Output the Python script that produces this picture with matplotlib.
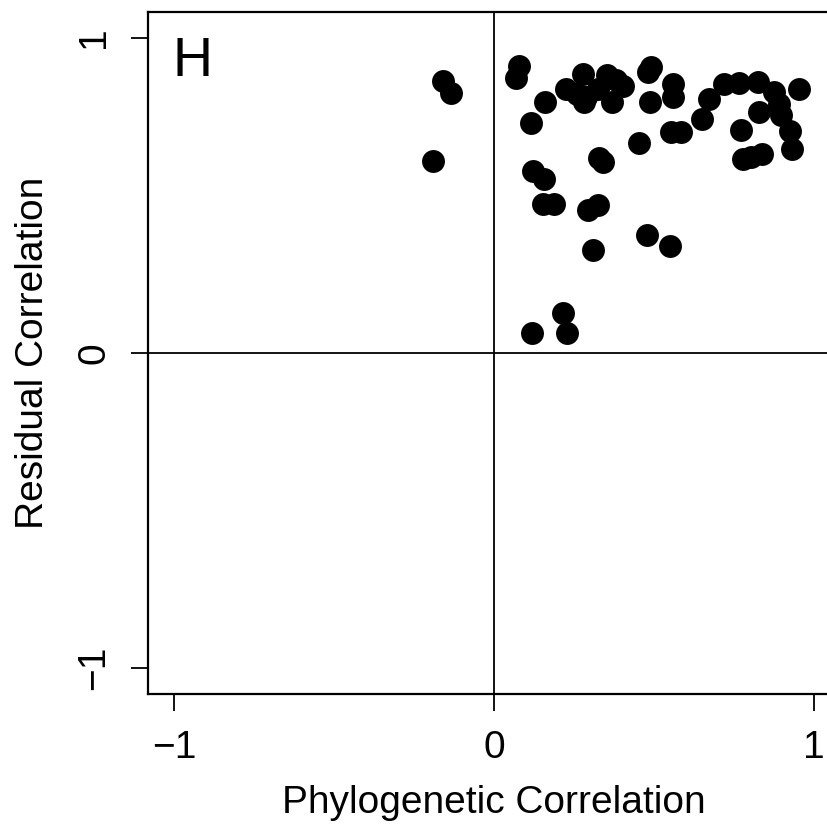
import matplotlib
matplotlib.use("Agg")
import matplotlib.pyplot as plt

plt.rcParams['font.family'] = ['Liberation Sans', 'DejaVu Sans']

# phylogenetic vs residual correlation
phylo = [-0.160, -0.135, -0.190, 0.079, 0.068, 0.160, 0.116, 0.225, 0.277, 0.261,
         0.287, 0.354, 0.381, 0.370, 0.402, 0.324, 0.490, 0.480, 0.487, 0.558,
         0.558, 0.454, 0.554, 0.584, 0.720, 0.766, 0.824, 0.672, 0.651, 0.829,
         0.875, 0.891, 0.896, 0.926, 0.932, 0.953, 0.771, 0.779, 0.803, 0.837,
         0.121, 0.157, 0.152, 0.188, 0.293, 0.324, 0.329, 0.340, 0.477, 0.549,
         0.308, 0.215, 0.228, 0.118, 0.282]
resid = [0.861, 0.825, 0.608, 0.911, 0.872, 0.797, 0.730, 0.837, 0.885, 0.821,
         0.811, 0.880, 0.865, 0.797, 0.845, 0.837, 0.906, 0.890, 0.795, 0.853,
         0.811, 0.667, 0.699, 0.700, 0.853, 0.855, 0.858, 0.806, 0.743, 0.764,
         0.827, 0.790, 0.753, 0.703, 0.648, 0.837, 0.706, 0.616, 0.621, 0.632,
         0.577, 0.553, 0.471, 0.471, 0.453, 0.468, 0.619, 0.605, 0.375, 0.339,
         0.326, 0.125, 0.062, 0.064, 0.795]

ticks = [-1, 0, 1]
tick_labels = ['\u22121', '0', '1']
panel = 'H'

fig = plt.figure(figsize=(8.28, 8.27), dpi=100)
# right edge of the box falls just outside the picture
ax = fig.add_axes([148.5/828, (827-693.5)/827, 691/828, (693.5-12.3)/827])

ax.axvline(0, color='black', lw=1.3, zorder=1)
ax.axhline(0, color='black', lw=1.3, zorder=1)
ax.plot(phylo, resid, 'o', color='black', markersize=16.5, markeredgewidth=0, zorder=3)

ax.set_xlim(-1.08, 1.08)
ax.set_ylim(-1.08, 1.08)
ax.set_xticks(ticks)
ax.set_xticklabels(tick_labels)
ax.set_yticks(ticks)
ax.set_yticklabels(tick_labels, rotation=90, va='center')

for s in ax.spines.values():
    s.set_linewidth(1.6)
ax.spines['right'].set_visible(False)
ax.tick_params(direction='out', length=12, width=1.3, labelsize=28, pad=14)

ax.set_xlabel('Phylogenetic Correlation', fontsize=28, labelpad=14)
ax.set_ylabel('Residual Correlation', fontsize=28, labelpad=18)

ax.text(0.035, 0.965, panel, transform=ax.transAxes, fontsize=40, va='top', ha='left')

fig.savefig('out.png', dpi=100)
